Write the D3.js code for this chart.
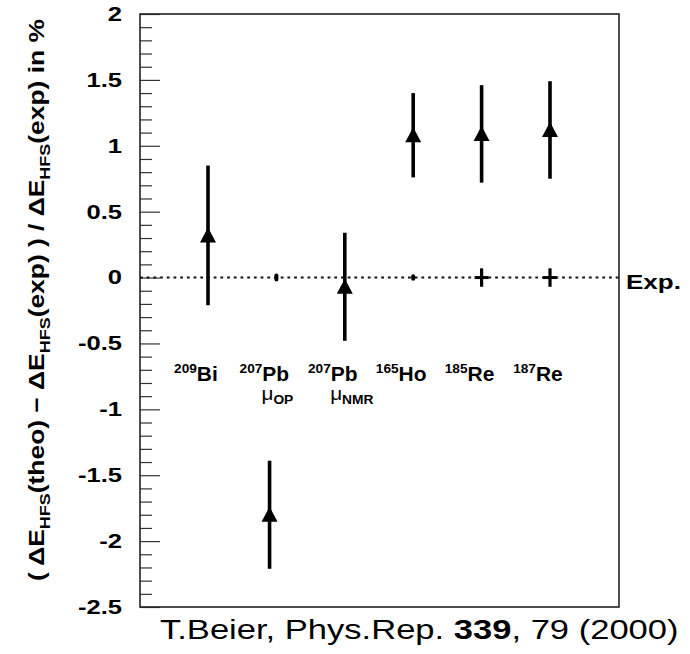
<!DOCTYPE html>
<html>
<head>
<meta charset="utf-8">
<script src="https://cdn.jsdelivr.net/npm/d3@7"></script>
<style>
  body { margin: 0; background: #fff; }
  svg { display: block; font-family: "Liberation Sans", Arial, Helvetica, sans-serif; }
</style>
</head>
<body>
<div id="chart"></div>
<script>
// data
var massNumbers = ["209", "207", "207", "165", "185", "187"];
var elements    = ["Bi", "Pb", "Pb", "Ho", "Re", "Re"];
var methods     = ["", "OP", "NMR", "", "", ""];
var expPos      = [1, 2, 3, 4, 5, 6];
var theoPos     = [1, 1.9, 3, 4, 5, 6];
var theoValues  = [0.32, -1.80, -0.07, 1.08, 1.09, 1.12];
var theoErrors  = [0.53, 0.41, 0.41, 0.32, 0.37, 0.37];
var expErrors   = [0, 0.015, 0, 0.01, 0.07, 0.07];
var majorTicks  = [-2.5, -2, -1.5, -1, -0.5, 0, 0.5, 1, 1.5, 2];
var minorTicks  = d3.range(-25, 21).map(function(d){ return d / 10; })
  .filter(function(d){ return Math.abs(d * 2 - Math.round(d * 2)) > 1e-6; });

// the original figure is a bit wider than tall, stretch text horizontally
function stretch(sel, k){
  sel.each(function(){
    var t = d3.select(this);
    var px = +t.attr("x") || 0, py = +t.attr("y") || 0;
    t.attr("transform", "translate(" + px + "," + py + ") scale(" + k + ",1) translate(" + (-px) + "," + (-py) + ")");
  });
}

function chart(){
  var width = 690, height = 654;
  var plot = {left: 140, top: 14, right: 619, bottom: 607};

  var svg = d3.select("#chart").append("svg")
    .attr("width", width)
    .attr("height", height);

  var x = d3.scaleLinear().domain([1, 6]).range([208, 550]);
  var y = d3.scaleLinear().domain([-2.5, 2]).range([plot.bottom, plot.top]);

  // minor ticks (inside)
  svg.append("g")
    .attr("transform", "translate(" + plot.left + ",0)")
    .call(d3.axisLeft(y).tickValues(minorTicks).tickSize(-12).tickFormat(""))
    .call(function(g){ g.select(".domain").remove(); })
    .selectAll("line").attr("stroke", "#333").attr("stroke-width", 1.2);

  // major ticks + labels
  var yAxis = svg.append("g")
    .attr("transform", "translate(" + plot.left + ",0)")
    .call(d3.axisLeft(y).tickValues(majorTicks).tickSize(-20).tickPadding(18)
      .tickFormat(function(d){ return String(d); }));
  yAxis.select(".domain").remove();
  yAxis.selectAll("line").attr("stroke", "#333").attr("stroke-width", 1.2);
  yAxis.selectAll("text")
    .attr("fill", "#000")
    .attr("font-size", 20)
    .attr("font-weight", "bold")
    .attr("font-family", "Liberation Sans, Arial, sans-serif")
    .call(stretch, 1.28);

  // frame
  svg.append("rect")
    .attr("x", plot.left).attr("y", plot.top)
    .attr("width", plot.right - plot.left)
    .attr("height", plot.bottom - plot.top)
    .attr("fill", "none")
    .attr("stroke", "#222")
    .attr("stroke-width", 1.6);

  // experiment reference line
  svg.append("line")
    .attr("x1", plot.left).attr("x2", plot.right)
    .attr("y1", y(0)).attr("y2", y(0))
    .attr("stroke", "#111")
    .attr("stroke-width", 2)
    .attr("stroke-dasharray", "2.8,3.9");

  svg.append("text")
    .attr("x", 626).attr("y", 289)
    .style("font-size", "20px")
    .style("font-weight", "bold")
    .text("Exp.")
    .call(stretch, 1.3);

  // experimental uncertainties
  expErrors.forEach(function(e, i){
    if (e <= 0) return;
    svg.append("line")
      .attr("x1", x(expPos[i])).attr("x2", x(expPos[i]))
      .attr("y1", y(e)).attr("y2", y(-e))
      .attr("stroke", "#000").attr("stroke-width", e < 0.05 ? 4 : 3.2)
      .attr("stroke-linecap", e < 0.05 ? "round" : "butt");
    if (e >= 0.05) {
      svg.append("line")
        .attr("x1", x(expPos[i]) - 7).attr("x2", x(expPos[i]) + 7)
        .attr("y1", y(0)).attr("y2", y(0))
        .attr("stroke", "#000").attr("stroke-width", 3);
    }
  });

  // theory points with error bars
  theoValues.forEach(function(v, i){
    var cx = x(theoPos[i]);
    svg.append("line")
      .attr("x1", cx).attr("x2", cx)
      .attr("y1", y(v + theoErrors[i])).attr("y2", y(v - theoErrors[i]))
      .attr("stroke", "#000").attr("stroke-width", 3.6);
    var cy = y(v);
    var p = d3.path();
    p.moveTo(cx, cy - 8);
    p.lineTo(cx + 8, cy + 7);
    p.lineTo(cx - 8, cy + 7);
    p.closePath();
    svg.append("path").attr("d", p.toString()).attr("fill", "#000");
  });

  // nuclide labels
  elements.forEach(function(el, i){
    var t = svg.append("text")
      .attr("x", x(expPos[i]) - 12)
      .attr("y", 381)
      .attr("text-anchor", "middle")
      .style("font-weight", "bold");
    t.append("tspan").attr("dy", -8).style("font-size", "13px").text(massNumbers[i]);
    t.append("tspan").attr("dy", 8).style("font-size", "20px").text(el);
    t.call(stretch, 1.05);
    if (methods[i]) {
      var m = svg.append("text")
        .attr("x", x(expPos[i]) + (i == 1 ? 1 : 7))
        .attr("y", 400)
        .attr("text-anchor", "middle");
      m.append("tspan").style("font-size", "18px").text("\u03bc");
      m.append("tspan").attr("dy", 4).style("font-size", "12px").style("font-weight", "bold").text(methods[i]);
      m.call(stretch, 1.15);
    }
  });

  // y axis title
  var title = svg.append("text")
    .attr("transform", "translate(44,300) rotate(-90) scale(1.2,1)")
    .attr("text-anchor", "middle")
    .style("font-size", "22px")
    .style("font-weight", "bold");
  title.append("tspan").text("( \u0394E");
  title.append("tspan").attr("dy", 6).style("font-size", "15px").text("HFS");
  title.append("tspan").attr("dy", -6).text("(theo) \u2212 \u0394E");
  title.append("tspan").attr("dy", 6).style("font-size", "15px").text("HFS");
  title.append("tspan").attr("dy", -6).text("(exp) ) / \u0394E");
  title.append("tspan").attr("dy", 6).style("font-size", "15px").text("HFS");
  title.append("tspan").attr("dy", -6).text("(exp) in %");

  // citation
  var cite = svg.append("text")
    .attr("x", 160).attr("y", 639)
    .style("font-size", "27px");
  cite.append("tspan").text("T.Beier, Phys.Rep. ");
  cite.append("tspan").style("font-weight", "bold").text("339");
  cite.append("tspan").text(", 79 (2000)");
  cite.call(stretch, 1.28);
}

chart();
</script>
</body>
</html>
